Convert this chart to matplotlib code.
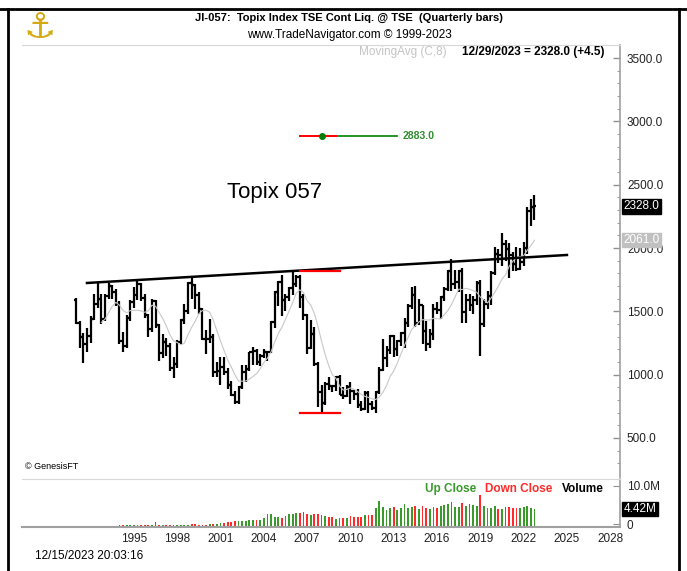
import numpy as np
import pandas as pd
import matplotlib
matplotlib.use("Agg")
import matplotlib.pyplot as plt
from matplotlib.lines import Line2D

W, H = 687, 571
NARROW = ['Liberation Sans Narrow', 'Liberation Sans', 'DejaVu Sans']
plt.rcParams['font.family'] = NARROW

# ---------------- data (quarterly bars, 1992Q1 .. 2023Q4) ----------------
quarters = pd.period_range('1992Q1', '2023Q4', freq='Q').astype(str).tolist()

opens = [1590, 1410, 1300, 1240, 1307, 1440, 1560, 1600, 1439, 1620, 1700, 1650,
         1559, 1262, 1230, 1450, 1577, 1630, 1715, 1605, 1470, 1360, 1580, 1390,
         1175, 1260, 1230, 1050, 1087, 1260, 1430, 1500, 1722, 1705, 1630, 1520,
         1284, 1278, 1300, 1024, 1032, 1060, 1025, 921, 843, 788, 903, 1018,
         1043, 1179, 1190, 1102, 1149, 1182, 1177, 1412, 1649, 1728, 1586, 1610,
         1681, 1713, 1774, 1616, 1475, 1212, 1320, 1087, 860, 774, 929, 909,
         907, 978, 841, 829, 899, 869, 849, 762, 729, 854, 770, 737,
         860, 1035, 1133, 1194, 1302, 1203, 1262, 1326, 1407, 1543, 1630, 1411,
         1547, 1348, 1245, 1322, 1519, 1513, 1612, 1675, 1818, 1716, 1730, 1817,
         1494, 1592, 1551, 1587, 1721, 1403, 1558, 1625, 1805, 1954, 1943, 2030,
         1992, 1946, 1871, 1835, 1892, 2003, 2289.5, 2323.5]
highs = [1605, 1420, 1330, 1370, 1460, 1640, 1730, 1640, 1640, 1725, 1710, 1680,
         1580, 1340, 1470, 1590, 1690, 1740, 1720, 1640, 1480, 1600, 1590, 1400,
         1320, 1290, 1250, 1140, 1270, 1440, 1560, 1730, 1765, 1715, 1650, 1530,
         1350, 1440, 1320, 1100, 1140, 1140, 1050, 950, 870, 910, 1080, 1080,
         1180, 1220, 1200, 1160, 1200, 1190, 1420, 1660, 1740, 1785, 1640, 1690,
         1816, 1790, 1790, 1640, 1480, 1430, 1380, 1100, 920, 940, 980, 920,
         990, 1000, 900, 920, 940, 880, 890, 790, 870, 870, 790, 870,
         1060, 1280, 1230, 1310, 1310, 1270, 1340, 1450, 1560, 1690, 1700, 1600,
         1550, 1420, 1360, 1560, 1570, 1620, 1690, 1830, 1910, 1830, 1830, 1840,
         1640, 1640, 1620, 1740, 1750, 1600, 1660, 1820, 2010, 1990, 2120, 2060,
         2040, 1970, 2010, 2000, 2050, 2320, 2390, 2420]
lows = [1400, 1210, 1090, 1180, 1250, 1430, 1530, 1400, 1420, 1600, 1600, 1540,
        1240, 1180, 1210, 1420, 1530, 1590, 1580, 1450, 1300, 1340, 1370, 1110,
        1130, 1150, 1030, 975, 1050, 1240, 1400, 1480, 1600, 1520, 1480, 1270,
        1160, 1250, 980, 980, 920, 1000, 890, 830, 770, 768, 890, 940,
        1030, 1080, 1080, 1070, 1130, 1110, 1170, 1370, 1540, 1460, 1500, 1580,
        1630, 1690, 1530, 1430, 1160, 1200, 1070, 746, 700, 760, 880, 860,
        870, 840, 810, 820, 770, 800, 740, 710, 720, 700, 720, 700,
        850, 1030, 1060, 1160, 1140, 1150, 1230, 1210, 1380, 1520, 1380, 1390,
        1240, 1190, 1210, 1270, 1480, 1440, 1580, 1660, 1660, 1680, 1650, 1410,
        1410, 1500, 1480, 1550, 1150, 1380, 1520, 1550, 1790, 1880, 1860, 1900,
        1760, 1820, 1820, 1830, 1860, 1950, 2170, 2220]
closes = [1410, 1300, 1240, 1307, 1440, 1560, 1600, 1439, 1620, 1700, 1650, 1559,
          1262, 1230, 1450, 1577, 1630, 1715, 1605, 1470, 1360, 1580, 1390, 1175,
          1260, 1230, 1050, 1087, 1260, 1430, 1500, 1722, 1705, 1630, 1520, 1284,
          1278, 1300, 1024, 1032, 1060, 1025, 921, 843, 788, 903, 1018, 1043,
          1179, 1190, 1102, 1149, 1182, 1177, 1412, 1649, 1728, 1586, 1610, 1681,
          1713, 1774, 1616, 1475, 1212, 1320, 1087, 860, 774, 929, 909, 907,
          978, 841, 829, 899, 869, 849, 762, 729, 854, 770, 737, 860,
          1035, 1133, 1194, 1302, 1203, 1262, 1326, 1407, 1543, 1630, 1411, 1547,
          1348, 1245, 1322, 1519, 1513, 1612, 1675, 1818, 1716, 1730, 1817, 1494,
          1592, 1551, 1587, 1721, 1403, 1558, 1625, 1805, 1954, 1943, 2030, 1992,
          1946, 1871, 1835, 1892, 2003, 2289.5, 2323.5, 2328.0]

# volume in millions, starting 1994Q2
vol_start = '1994Q2'
volume_m = [0.2, 0.3, 0.3,
            0.4, 0.5, 0.5, 0.4,
            0.5, 0.5, 0.4, 0.5,
            0.5, 0.6, 1.1, 0.6,
            0.5, 0.5, 0.5, 0.4,
            0.4, 0.5, 0.5, 0.6,
            0.7, 0.7, 0.5, 0.6,
            0.6, 0.7, 0.8, 0.8,
            0.9, 1.0, 1.2, 1.3,
            1.5, 1.5, 1.5, 1.4,
            1.6, 1.7, 1.6, 1.8,
            2.2, 3.2, 3.2, 2.4,
            2.4, 2.2, 2.6, 3.1,
            3.1, 3.4, 3.5, 3.6,
            3.2, 3.0, 3.2, 3.1,
            3.0, 2.6, 2.4, 2.5,
            2.0, 2.3, 2.1, 2.2,
            2.6, 2.4, 2.5, 2.5,
            2.9, 2.8, 2.8, 4.5,
            6.3, 4.8, 4.2, 4.6,
            4.8, 4.2, 4.5, 5.5,
            4.5, 4.8, 5.0, 4.3,
            5.2, 4.6, 4.3, 4.8,
            4.7, 5.0, 5.3, 5.5,
            6.0, 4.8, 4.9, 5.8,
            5.0, 5.6, 5.4, 5.0,
            7.8, 5.0, 4.6, 4.7,
            5.0, 4.4, 4.4, 4.8,
            4.8, 4.6, 4.7, 4.6,
            4.9, 5.0, 4.7, 4.42]

year_labels = ['1995', '1998', '2001', '2004', '2007', '2010', '2013',
               '2016', '2019', '2022', '2025', '2028']
price_ticks = [500, 1000, 1500, 2000, 2500, 3000, 3500]

# annotation lines (quarter label, value)
trend_line = [('1992Q4', 1724), ('2026Q1', 1945)]
red_top = [('2007Q3', 1816), ('2010Q2', 1816)]
red_bottom = [('2007Q3', 700), ('2010Q2', 700)]
ath_level = 2883.0
ath_green = [('2008Q4', ath_level), ('2014Q2', ath_level)]
ath_red = [('2007Q3', ath_level), ('2010Q1', ath_level)]
ath_dot = ('2009Q1', ath_level)
chart_label = ('2005Q4', 2440, 'Topix 057')

# ---------------- helpers ----------------
base = pd.Period('1992Q1', freq='Q')
def qi(q):
    return (pd.Period(q, freq='Q') - base).n

x = np.arange(len(quarters))
o = np.array(opens, float); h = np.array(highs, float)
l = np.array(lows, float); c = np.array(closes, float)
ma = pd.Series(c).rolling(8).mean().values

def fx(px):
    return px / W
def fy(py):
    return 1 - py / H

fig = plt.figure(figsize=(W / 100, H / 100), dpi=100)
fig.patch.set_facecolor('white')

# ---------------- price pane ----------------
ax = fig.add_axes([fx(22), fy(477), fx(620) - fx(22), fy(45) - fy(477)])
ax.set_xlim(-15, 150.7)
ax.set_ylim(192, 3603)
tw = 0.55
lw = 1.6
ax.vlines(x, l, h, color='black', lw=lw)
ax.hlines(o, x - tw, x, color='black', lw=lw)
ax.hlines(c, x, x + tw, color='black', lw=lw)
ax.plot(x, ma, color='#c8c8c8', lw=0.8)

ax.plot([qi(p[0]) for p in trend_line], [p[1] for p in trend_line],
        color='black', lw=1.8)
ax.plot([qi(p[0]) for p in red_top], [p[1] for p in red_top], color='red', lw=1.6)
ax.plot([qi(p[0]) for p in red_bottom], [p[1] for p in red_bottom], color='red', lw=1.6)
ax.plot([qi(p[0]) for p in ath_green], [p[1] for p in ath_green], color='green', lw=1.2)
ax.plot([qi(p[0]) for p in ath_red], [p[1] for p in ath_red], color='red', lw=1.4)
ax.plot([qi(ath_dot[0])], [ath_dot[1]], 'o', color='green', ms=4)
ax.text(qi(ath_green[1][0]) + 1.5, ath_level, '%.1f' % ath_level, color='#2e8b2e',
        fontsize=7.5, fontweight='bold', va='center', ha='left')

ax.text(qi(chart_label[0]), chart_label[1], chart_label[2], fontsize=16,
        ha='center', va='center', family=['Liberation Sans', 'DejaVu Sans'])
ax.text(-14.2, 240, '© GenesisFT', fontsize=6.5, ha='left', va='bottom',
        family=['Liberation Sans', 'DejaVu Sans'])

ax.yaxis.tick_right()
ax.set_yticks(price_ticks)
ax.set_yticklabels(['%.1f' % v for v in price_ticks], fontsize=8.5, color='#222222')
ax.set_yticks(np.arange(300, 3601, 100), minor=True)
ax.tick_params(axis='y', which='major', direction='in', length=5, pad=5,
               color='#909090', width=1)
ax.tick_params(axis='y', which='minor', direction='in', length=2.5,
               color='#a0a0a0', width=0.8)
ax.set_xticks([])
for s in ['left', 'bottom']:
    ax.spines[s].set_visible(False)
ax.spines['top'].set_color('#d8d8d8')
ax.spines['right'].set_color('#a0a0a0')
ax.spines['right'].set_linewidth(1.2)

# value boxes on the right axis (the MA box is drawn first, the last-close box on top)
ax.text(1.006, ma[-1], '%.1f' % ma[-1], transform=ax.get_yaxis_transform(),
        fontsize=8.5, color='white', va='center', ha='left', zorder=5,
        bbox=dict(boxstyle='square,pad=0.1', fc='#c0c0c0', ec='#c0c0c0'))
ax.text(1.006, c[-1], '%.1f' % c[-1], transform=ax.get_yaxis_transform(),
        fontsize=8.5, color='white', va='center', ha='left', zorder=6,
        bbox=dict(boxstyle='square,pad=0.1', fc='black', ec='black'))

# ---------------- volume pane ----------------
axv = fig.add_axes([fx(22), fy(527), fx(620) - fx(22), fy(479) - fy(527)])
axv.set_xlim(-15, 150.7)
axv.set_ylim(0, 11.65)
v0 = qi(vol_start)
vx = np.arange(v0, v0 + len(volume_m))
vc = ['#3a9a2a' if c[i] > c[i - 1] else '#ff2a2a' for i in vx]
axv.bar(vx, volume_m, width=0.5, color=vc, linewidth=0)
axv.yaxis.tick_right()
axv.set_yticks([0.7, 10])
axv.set_yticklabels(['0', '10.0M'], fontsize=8.5, color='#222222')
axv.tick_params(axis='y', direction='in', length=5, pad=5, color='#909090')
axv.text(1.006, volume_m[-1], '%.2fM' % volume_m[-1], transform=axv.get_yaxis_transform(),
         fontsize=8.5, color='white', va='center', ha='left',
         bbox=dict(boxstyle='square,pad=0.1', fc='black', ec='black'))
tick_pos = [4 * (int(y) - 1991) for y in year_labels]
axv.set_xticks(tick_pos)
axv.set_xticklabels(year_labels, fontsize=8.5, color='#222222')
axv.tick_params(axis='x', length=0, pad=4)
axv.spines['left'].set_visible(False)
axv.spines['top'].set_color('#d8d8d8')
axv.spines['right'].set_color('#a0a0a0')
axv.spines['right'].set_linewidth(1.2)
axv.spines['bottom'].set_color('#a0a0a0')
axv.spines['bottom'].set_linewidth(1.5)

# ---------------- header / footer texts ----------------
fig.text(fx(349), fy(18), 'JI-057:  Topix Index TSE Cont Liq. @ TSE  (Quarterly bars)',
         fontsize=8, fontweight='bold', ha='center', va='center')
fig.text(fx(349), fy(35), 'www.TradeNavigator.com © 1999-2023',
         fontsize=8.5, ha='center', va='center')
fig.text(fx(447), fy(52), 'MovingAvg (C,8)', fontsize=8.5, color='#c4c4c4',
         ha='right', va='center')
fig.text(fx(604), fy(52), '12/29/2023 = %.1f (+%.1f)' % (c[-1], c[-1] - c[-2]),
         fontsize=8.5, fontweight='bold', ha='right', va='center')
fig.text(fx(476), fy(489), 'Up Close', fontsize=8.5, fontweight='bold', color='#3a9a2a',
         ha='right', va='center')
fig.text(fx(552), fy(489), 'Down Close', fontsize=8.5, fontweight='bold', color='#ff2a2a',
         ha='right', va='center')
fig.text(fx(604), fy(489), 'Volume', fontsize=8.5, fontweight='bold', color='black',
         ha='right', va='center')
fig.text(fx(35), fy(556), '12/15/2023 20:03:16', fontsize=8.5, ha='left', va='center')

# logo
fig.text(fx(40), fy(28), '⚓', fontsize=26, color='#d4aa10', ha='center', va='center',
         family=['DejaVu Sans'])

# outer frame
fig.add_artist(Line2D([fx(0), fx(687)], [fy(9), fy(9)], color='black', lw=2))
fig.add_artist(Line2D([fx(8), fx(8)], [fy(9), fy(571)], color='black', lw=2))
fig.add_artist(Line2D([fx(679), fx(679)], [fy(9), fy(571)], color='black', lw=2))

fig.savefig('out.png', dpi=100, facecolor='white')
